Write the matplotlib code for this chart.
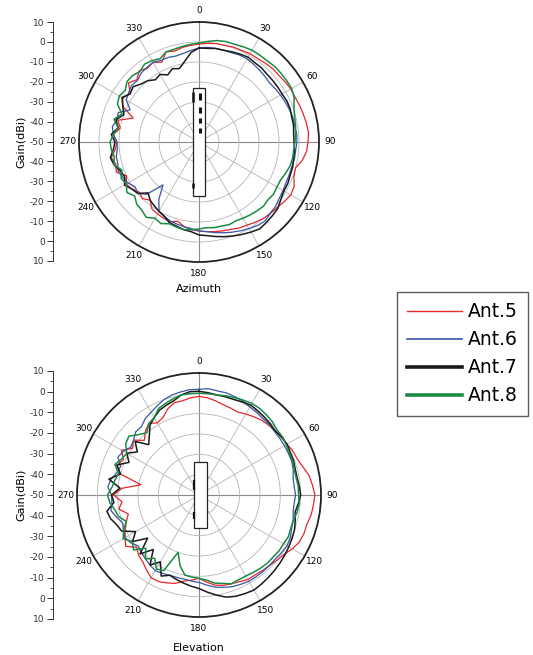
"""Azimuth / elevation gain patterns of Ant.5 - Ant.8."""

import numpy as np
import matplotlib.pyplot as plt
from matplotlib.lines import Line2D
from matplotlib.patches import Rectangle

plt.switch_backend("Agg")

# angles in degrees, 5 degree steps (0 at top, clockwise)
angles = list(range(0, 360, 5))

# gain in dBi
az_ant5 = [-1, -0.5, 0, 0, 0.5, 0.5, 1, 1, 1.5, 2, 2, 2.5, 3, 3, 3.5, 4, 4.5, 5,
           4.5, 4, 2.5, 0, 0.5, 2.5, 3, 2, 1, 0.5, 0, -1, -2, -2.5, -3.5, -4, -4.5, -5,
           -5.5, -6, -7, -9, -7.5, -8, -8.5, -9, -12, -10, -11, -9, -8, -10, -6, -7, -5.5, -8,
           -9, -7, -10, -8, -15, -8, -6, -8, -4, -6, -3.5, -5, -4, -6, -2, -3, -2, -1.5]
az_ant6 = [-3, -2.5, -2.5, -2.5, -2.5, -2, -2, -2.5, -3, -3.5, -4, -3.5, -3, -2.5, -2, -1.5, -1.5, -1,
           -1, -1.5, -1.5, -2, -2, -2, -1.5, -1, 0, 0.5, 1.5, 1, 0, -1, -2, -3, -4, -5,
           -5.5, -6.5, -7, -7.5, -8, -9, -10, -15, -22, -13, -10, -11, -9, -8, -7, -8, -8, -9,
           -9, -7, -6, -7.5, -7, -12, -8, -7, -6, -6.5, -5, -4.5, -4, -5, -5, -5.5, -5, -4]
az_ant7 = [-3, -3, -2.5, -2.5, -2, -1.5, -1, -1.5, -1.5, -2, -2, -2, -2, -1.5, -1.5, -2, -2, -2.5,
           -2.5, -2, -2, -1.5, -1.5, -1, -1, 0, 1.5, 2, 2.5, 3, 2, 1, 0, -1, -2, -3,
           -3.5, -5, -5.5, -6.5, -7, -9, -10, -11, -12, -14, -10, -9, -7, -9, -8, -6, -5, -7,
           -8, -6, -9, -7, -10, -8, -5.5, -8, -7, -9, -10, -12, -11, -13, -11, -12, -9, -5]
az_ant8 = [-0.5, 0.5, 1.5, 2, 2, 2.5, 3, 3, 3, 3.5, 3.5, 3.5, 3.5, 2.5, 0.5, -0.5, -1, -1.5,
           -2, -2.5, -2.5, -3, -4, -5, -5, -4.5, -5, -4.5, -5, -5.5, -6, -6.5, -6, -6.5, -6.5, -7,
           -6.5, -6, -5.5, -6, -6.5, -5, -6, -4, -5.5, -6, -8, -6, -8, -7, -9, -6, -7, -6,
           -5.5, -7, -9, -6, -9, -5, -4, -5, -3, -3, -4, -2.5, -3, -4, -2, -2, -1.5, -1]

# gain in dBi
el_ant5 = [-1.5, -2, -3, -4, -4.5, -5, -4, -3, -2, -1.5, -1, 0, 0, 1, 1.5, 3, 5, 6,
           7, 6.5, 6, 5, 5, 4.5, 3, 1, 0, -1, -1.5, -2, -2, -3, -3.5, -4, -5, -7,
           -9, -8, -7, -5, -4, -3, -3, -5, -7, -8, -10, -6, -8, -10, -12, -14, -10, -12,
           -8, -12, -21, -10, -7, -9, -6, -10, -8, -12, -9, -7, -9, -8, -5, -3, -3, -2]
el_ant6 = [2, 2.5, 2, 2, 1.5, 1, 0, -0.5, -1, -1, -1.5, -1.5, -1.5, -1.5, -1.5, -2, -3, -3,
           -2.5, -3, -3, -2, -1.5, -0.5, 0, -0.5, -1, -1, -1, -1, -1, -1.5, -2, -3, -4, -5.5,
           -7, -7.5, -8, -8, -8, -7.5, -7, -8, -9, -10, -11, -9, -8, -9, -10, -8, -6, -7,
           -7, -5, -6, -8, -9, -6, -7, -9, -8, -6, -6, -4, -3, -1.5, 0, 1, 1.5, 2]
el_ant7 = [1, 0.5, 0, 0, 0, 0.5, 1, 0.5, 0, -0.5, -1, -0.5, 0, -0.5, -0.5, -1, -1, -0.5,
           0, -1, -2, -1, 0, 0.5, 1, 1.5, 2, 2.5, 3, 3.5, 4, 3.5, 3, 2, 0, -2,
           -4, -5, -6, -7, -8, -6, -12, -8, -15, -9, -17, -10, -14, -8, -7, -5, -4, -8,
           -7, -11, -5, -10, -7, -12, -9, -13, -9, -15, -12, -8, -6, -4, -3, -2, 0, 1]
el_ant8 = [0, 0, 0, 0.5, 1, 1.5, 2, 2, 1.5, 1, 0, 0, -0.5, -1, -1, -1.5, -1.5, -1,
           -1, -0.5, -1, -2, -2, -1.5, -2, -2, -2.5, -2.5, -3, -3.5, -4, -4, -3.5, -5, -6, -8,
           -9, -9.5, -10, -14, -20, -9, -8, -12, -9, -13, -8, -10, -7, -9, -12, -9, -8, -6,
           -5, -7, -8, -9, -6, -8, -9, -6, -5, -8, -10, -7, -6, -3, -2, -1, 0, 0]

labels = ["Ant.5", "Ant.6", "Ant.7", "Ant.8"]
colors = ["#e8262a", "#3a55a4", "#1a1a1a", "#1a8a45"]
plot_lw = [0.9, 0.9, 1.1, 1.1]
legend_lw = [1.0, 1.2, 2.6, 2.6]
theta_ticks = list(range(0, 360, 30))
gain_ticks = [10, 0, -10, -20, -30, -40, -50, -40, -30, -20, -10, 0, 10]

W, H = 533, 655


def fx(px):
    return px / W


def fy(py):
    return 1 - py / H


def gain_scale(top, bottom, title):
    """Linear Gain(dBi) scale at the left of a polar plot."""
    ax = plt.gcf().add_axes([fx(53), fy(bottom), 0.0005, (bottom - top) / H])
    ax.set_ylim(-60, 60)
    pos = np.linspace(60, -60, len(gain_ticks))
    ax.set_yticks(pos)
    ax.set_yticklabels([str(v) for v in gain_ticks], fontsize=6.5)
    ax.set_yticks(np.arange(-55, 60, 10), minor=True)
    ax.tick_params(axis="y", which="major", length=4, width=0.7, pad=2, colors="#333333")
    ax.tick_params(axis="y", which="minor", length=2, width=0.6, colors="#333333")
    ax.set_xticks([])
    for s in ("top", "right", "bottom"):
        ax.spines[s].set_visible(False)
    ax.spines["left"].set_color("#333333")
    ax.spines["left"].set_linewidth(0.7)
    ax.set_ylabel(title, fontsize=8, labelpad=3)
    return ax


def polar_plot(rect, data, xlabel, label_y):
    fig = plt.gcf()
    ax = fig.add_axes(rect, projection="polar")
    ax.set_theta_zero_location("N")
    ax.set_theta_direction(-1)
    th = np.deg2rad(angles + [angles[0]])
    for vals, c, lw in zip(data, colors, plot_lw):
        ax.plot(th, vals + [vals[0]], color=c, lw=lw)
    ax.set_ylim(-50, 10)
    ax.set_rgrids([-40, -30, -20, -10, 0], labels=[])
    ax.set_thetagrids(theta_ticks, [str(t) for t in theta_ticks], fontsize=6.5)
    ax.tick_params(axis="x", pad=-2.5)
    ax.grid(color="#b5b5b5", lw=0.6)
    for i, gl in enumerate(ax.xaxis.get_gridlines()):
        if i % 3 == 0:
            gl.set_color("#8a8a8a")
            gl.set_linewidth(0.8)
    ax.spines["polar"].set_color("#222222")
    ax.spines["polar"].set_linewidth(1.3)
    fig.text(fx(199), fy(label_y), xlabel, fontsize=8, ha="center", va="center")
    return ax


fig = plt.figure(figsize=(W / 100, H / 100), dpi=100)

# azimuth
ax_az = polar_plot([fx(79), fy(262), 240 / W, 240 / H],
                   [az_ant5, az_ant6, az_ant7, az_ant8], "Azimuth", 289)
gain_scale(22, 261, "Gain(dBi)")
ax_az.add_patch(Rectangle((0.475, 0.275), 0.05, 0.45, transform=ax_az.transAxes,
                          fc="white", ec="#222222", lw=0.9, zorder=5))
for y0, y1 in [(0.675, 0.704), (0.621, 0.646), (0.579, 0.600), (0.538, 0.558)]:
    ax_az.plot([0.503, 0.503], [y0, y1], transform=ax_az.transAxes,
               color="#111111", lw=2.2, solid_capstyle="butt", zorder=6)
for y0, y1 in [(0.667, 0.708), (0.308, 0.329)]:
    ax_az.plot([0.474, 0.474], [y0, y1], transform=ax_az.transAxes,
               color="#111111", lw=1.8, solid_capstyle="butt", zorder=6)

# elevation
ax_el = polar_plot([fx(77), fy(617), 244 / W, 244 / H],
                   [el_ant5, el_ant6, el_ant7, el_ant8], "Elevation", 648)
gain_scale(371, 619, "Gain(dBi)")
ax_el.add_patch(Rectangle((0.48, 0.365), 0.053, 0.27, transform=ax_el.transAxes,
                          fc="white", ec="#222222", lw=0.9, zorder=5))
for y0, y1 in [(0.52, 0.56), (0.40, 0.43)]:
    ax_el.plot([0.479, 0.479], [y0, y1], transform=ax_el.transAxes,
               color="#111111", lw=1.6, solid_capstyle="butt", zorder=6)

handles = [Line2D([], [], color=c, lw=lw) for c, lw in zip(colors, legend_lw)]
leg = fig.legend(handles, labels, loc="upper left", bbox_to_anchor=(fx(397), fy(292)),
                 fontsize=13.5, frameon=True, fancybox=False, handlelength=2.9,
                 handletextpad=0.35, labelspacing=0.48, borderpad=0.55, borderaxespad=0)
leg.get_frame().set_edgecolor("#333333")
leg.get_frame().set_linewidth(1.0)

fig.savefig("out.png", dpi=100)
